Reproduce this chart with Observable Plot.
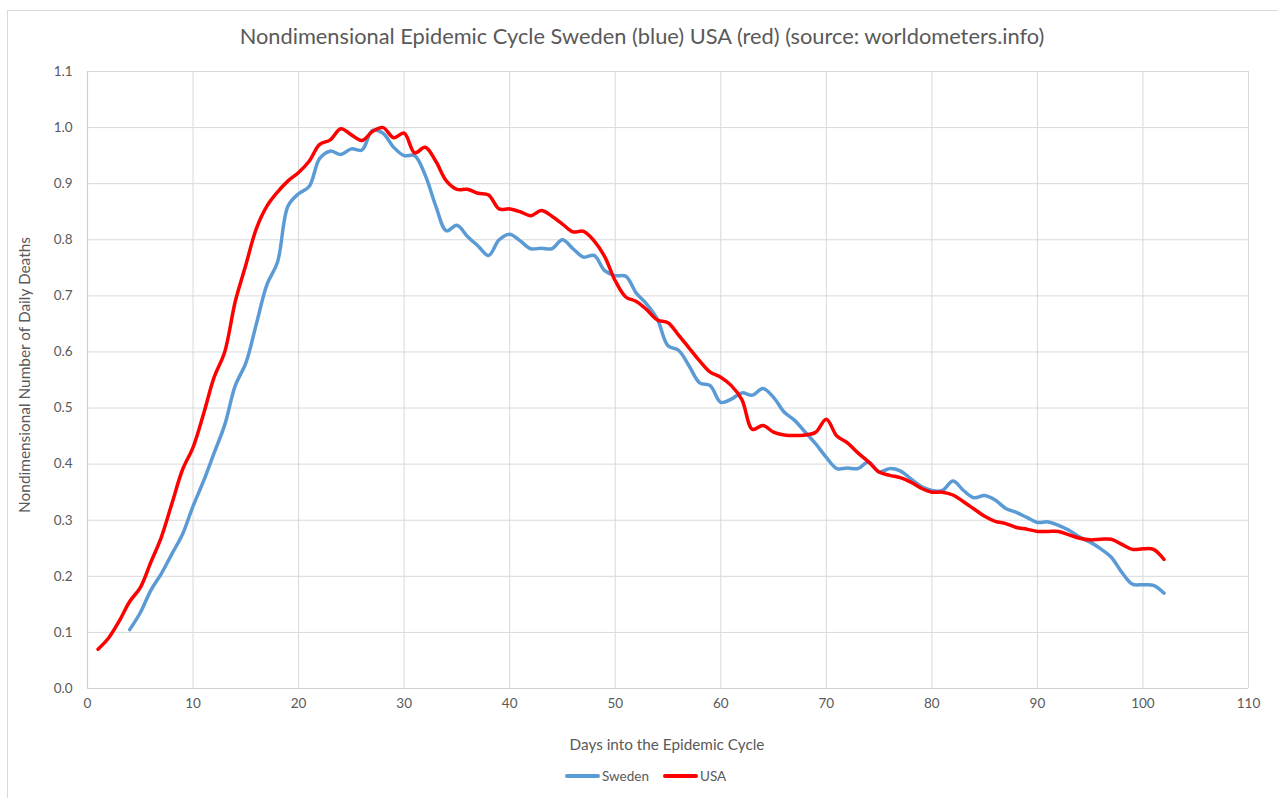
<!DOCTYPE html>
<html>
<head>
<meta charset="utf-8">
<script src="https://cdn.jsdelivr.net/npm/d3@7"></script>
<script src="https://cdn.jsdelivr.net/npm/@observablehq/plot@0.6"></script>
<style>
  html, body { margin: 0; padding: 0; background: #fff; overflow: hidden; }
  #wrap { position: relative; width: 1278px; height: 798px; font-family: Lato, "Open Sans", sans-serif; color: #595959; }
  #frame { position: absolute; left: 7px; top: 10px; width: 1300px; height: 820px; border: 1px solid #d9d9d9; box-sizing: border-box; }
  #title { position: absolute; left: 0; width: 1284px; top: 22px; text-align: center; font-size: 21.8px; white-space: nowrap; }
  #xlabel { position: absolute; left: 0; width: 1334px; top: 735px; text-align: center; font-size: 15.3px; }
  #ylabel { position: absolute; left: 24px; top: 375px; transform: translate(-50%, -50%) rotate(-90deg); font-size: 15.4px; white-space: nowrap; }
  #legend { position: absolute; left: 565px; top: 768px; font-size: 13.5px; white-space: nowrap; display: flex; align-items: center; }
  .sw { display: inline-block; width: 35px; height: 4px; border-radius: 2px; margin-right: 2px; }
  .item { display: flex; align-items: center; margin-right: 14px; }
  #chart { position: absolute; left: 0; top: 0; }
</style>
</head>
<body>
<div id="wrap">
  <div id="frame"></div>
  <div id="chart"></div>
  <div id="title">Nondimensional Epidemic Cycle Sweden (blue) USA (red) (source: worldometers.info)</div>
  <div id="xlabel">Days into the Epidemic Cycle</div>
  <div id="ylabel">Nondimensional Number of Daily Deaths</div>
  <div id="legend"></div>
</div>
<script>
// ---- Data ----
const seriesNames = ["Sweden", "USA"];
const seriesColors = ["#5b9bd5", "#ff0000"];

const swedenStartDay = 4;
const swedenValues = [
  0.105, 0.135, 0.175, 0.205, 0.24, 0.275, 0.325, 0.37, 0.42, 0.47,      // 4-13
  0.54, 0.58, 0.65, 0.72, 0.76, 0.86, 0.882, 0.895, 0.945, 0.958,        // 14-23
  0.952, 0.962, 0.96, 0.995, 0.99, 0.965, 0.95, 0.95, 0.915, 0.86,       // 24-33
  0.816, 0.826, 0.806, 0.789, 0.772, 0.80, 0.81, 0.798, 0.784, 0.785,    // 34-43
  0.784, 0.80, 0.784, 0.769, 0.772, 0.745, 0.736, 0.735, 0.705, 0.685,   // 44-53
  0.658, 0.611, 0.603, 0.575, 0.545, 0.54, 0.51, 0.516, 0.527, 0.523,    // 54-63
  0.535, 0.519, 0.493, 0.478, 0.457, 0.436, 0.412, 0.392, 0.393, 0.392,  // 64-73
  0.404, 0.386, 0.392, 0.388, 0.374, 0.36, 0.353, 0.353, 0.37, 0.353,    // 74-83
  0.34, 0.344, 0.336, 0.321, 0.314, 0.305, 0.296, 0.297, 0.291, 0.282,   // 84-93
  0.27, 0.261, 0.249, 0.234, 0.207, 0.186, 0.185, 0.184, 0.17            // 94-102
];

const usaStartDay = 1;
const usaValues = [
  0.07, 0.09, 0.12, 0.155, 0.18, 0.225, 0.27, 0.33, 0.39, 0.43,          // 1-10
  0.49, 0.555, 0.60, 0.69, 0.755, 0.82, 0.86, 0.885, 0.905, 0.92,        // 11-20
  0.94, 0.97, 0.978, 0.998, 0.987, 0.977, 0.993, 1.0, 0.982, 0.99,       // 21-30
  0.955, 0.965, 0.94, 0.905, 0.89, 0.89, 0.883, 0.88, 0.855, 0.855,      // 31-40
  0.85, 0.843, 0.852, 0.842, 0.828, 0.814, 0.815, 0.798, 0.77, 0.727,    // 41-50
  0.698, 0.69, 0.675, 0.657, 0.652, 0.63, 0.607, 0.584, 0.564, 0.555,    // 51-60
  0.54, 0.515, 0.462, 0.469, 0.457, 0.452, 0.451, 0.452, 0.457, 0.48,    // 61-70
  0.45, 0.438, 0.42, 0.404, 0.386, 0.38, 0.376, 0.368, 0.357, 0.35,      // 71-80
  0.35, 0.345, 0.333, 0.32, 0.307, 0.298, 0.294, 0.287, 0.284, 0.28,     // 81-90
  0.28, 0.28, 0.274, 0.268, 0.265, 0.266, 0.266, 0.257, 0.248, 0.249,    // 91-100
  0.248, 0.23                                                            // 101-102
];

const xTicks = [0, 10, 20, 30, 40, 50, 60, 70, 80, 90, 100, 110];
const yTicks = [0, 0.1, 0.2, 0.3, 0.4, 0.5, 0.6, 0.7, 0.8, 0.9, 1.0, 1.1];

// ---- Build tables ----
const sweden = swedenValues.map((v, i) => ({day: swedenStartDay + i, value: v, series: "Sweden"}));
const usa = usaValues.map((v, i) => ({day: usaStartDay + i, value: v, series: "USA"}));

const chart = Plot.plot({
  width: 1278,
  height: 798,
  marginTop: 71,
  marginBottom: 110,
  marginLeft: 87,
  marginRight: 30,
  style: {fontFamily: "Lato, 'Open Sans', sans-serif", fontSize: "13px", color: "#595959", background: "transparent"},
  x: {domain: [0, 110]},
  y: {domain: [0, 1.1]},
  marks: [
    Plot.ruleX(xTicks.filter(d => d > 0), {stroke: "#d9d9d9", strokeWidth: 1}),
    Plot.ruleY(yTicks.filter(d => d > 0), {stroke: "#d9d9d9", strokeWidth: 1}),
    Plot.ruleY([0], {stroke: "#d0d0d0", strokeWidth: 1.2}),
    Plot.ruleX([0], {stroke: "#d0d0d0", strokeWidth: 1.2}),
    Plot.axisX({ticks: xTicks, tickSize: 0, tickPadding: 10, label: null, fontSize: 13.5}),
    Plot.axisY({ticks: yTicks, tickSize: 0, tickPadding: 15, label: null, tickFormat: d3.format(".1f"), fontSize: 13.5}),
    Plot.line(sweden, {x: "day", y: "value", stroke: seriesColors[0], strokeWidth: 3.5, curve: "catmull-rom", strokeLinecap: "round", strokeLinejoin: "round"}),
    Plot.line(usa, {x: "day", y: "value", stroke: seriesColors[1], strokeWidth: 3.5, curve: "catmull-rom", strokeLinecap: "round", strokeLinejoin: "round"})
  ]
});
document.getElementById("chart").appendChild(chart);

// ---- Legend ----
const legend = document.getElementById("legend");
seriesNames.forEach((name, i) => {
  const item = document.createElement("div");
  item.className = "item";
  const sw = document.createElement("span");
  sw.className = "sw";
  sw.style.background = seriesColors[i];
  const label = document.createElement("span");
  label.textContent = name;
  item.appendChild(sw);
  item.appendChild(label);
  legend.appendChild(item);
});
</script>
</body>
</html>
